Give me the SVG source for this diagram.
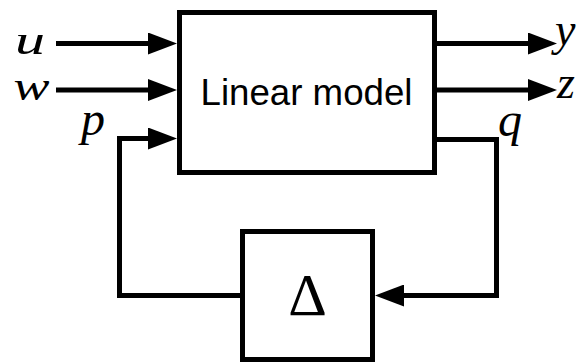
<svg xmlns="http://www.w3.org/2000/svg" width="581" height="362" viewBox="0 0 581 362">
<style>
.blk{fill:none;stroke:#000;stroke-width:5}
.ln{fill:none;stroke:#000;stroke-width:5;stroke-linejoin:miter}
.math{font-family:"Liberation Serif","DejaVu Serif",serif;font-style:italic;font-size:42px;fill:#000}
.big{font-size:48px}
.mid{font-size:46px}
.sans{font-family:"Liberation Sans","DejaVu Sans",sans-serif;font-size:36px;fill:#000}
.greek{font-family:"Liberation Serif","DejaVu Serif",serif;font-size:60px;fill:#000}
</style>
<defs>
<marker id="arr" markerUnits="userSpaceOnUse" viewBox="0 0 29 22" refX="19" refY="11" markerWidth="29" markerHeight="22" orient="auto">
<path d="M0,0 L29,11 L0,22 z" fill="#000"/>
</marker>
</defs>
<rect width="581" height="362" fill="#fff"/>
<g id="linear-model">
<rect class="blk" x="179.5" y="12.5" width="255" height="160"/>
<text class="sans" x="306.5" y="105" text-anchor="middle" textLength="212" lengthAdjust="spacingAndGlyphs">Linear model</text>
</g>
<g id="delta">
<rect class="blk" x="242.5" y="231.5" width="130" height="128"/>
<text class="greek" x="307.5" y="315" text-anchor="middle">Δ</text>
</g>
<g id="connectors">
<path class="ln" d="M56,43.5 H167" marker-end="url(#arr)"/>
<path class="ln" d="M56,90 H167" marker-end="url(#arr)"/>
<path class="ln" d="M240,295.5 H119.5 V138.5 H167" marker-end="url(#arr)"/>
<path class="ln" d="M437,139.5 H496.5 V295.5 H385" marker-end="url(#arr)"/>
<path class="ln" d="M437,43.5 H547" marker-end="url(#arr)"/>
<path class="ln" d="M437,90 H547" marker-end="url(#arr)"/>
</g>
<g id="labels">
<text class="math" x="30" y="54" text-anchor="middle" textLength="30" lengthAdjust="spacingAndGlyphs">u</text>
<text class="math" x="31.5" y="100" text-anchor="middle" textLength="36" lengthAdjust="spacingAndGlyphs">w</text>
<text class="math big" x="93" y="135" text-anchor="middle">p</text>
<text class="math big" x="510" y="136" text-anchor="middle">q</text>
<text class="math mid" x="555" y="45">y</text>
<text class="math mid" x="557" y="98">z</text>
</g>
</svg>
